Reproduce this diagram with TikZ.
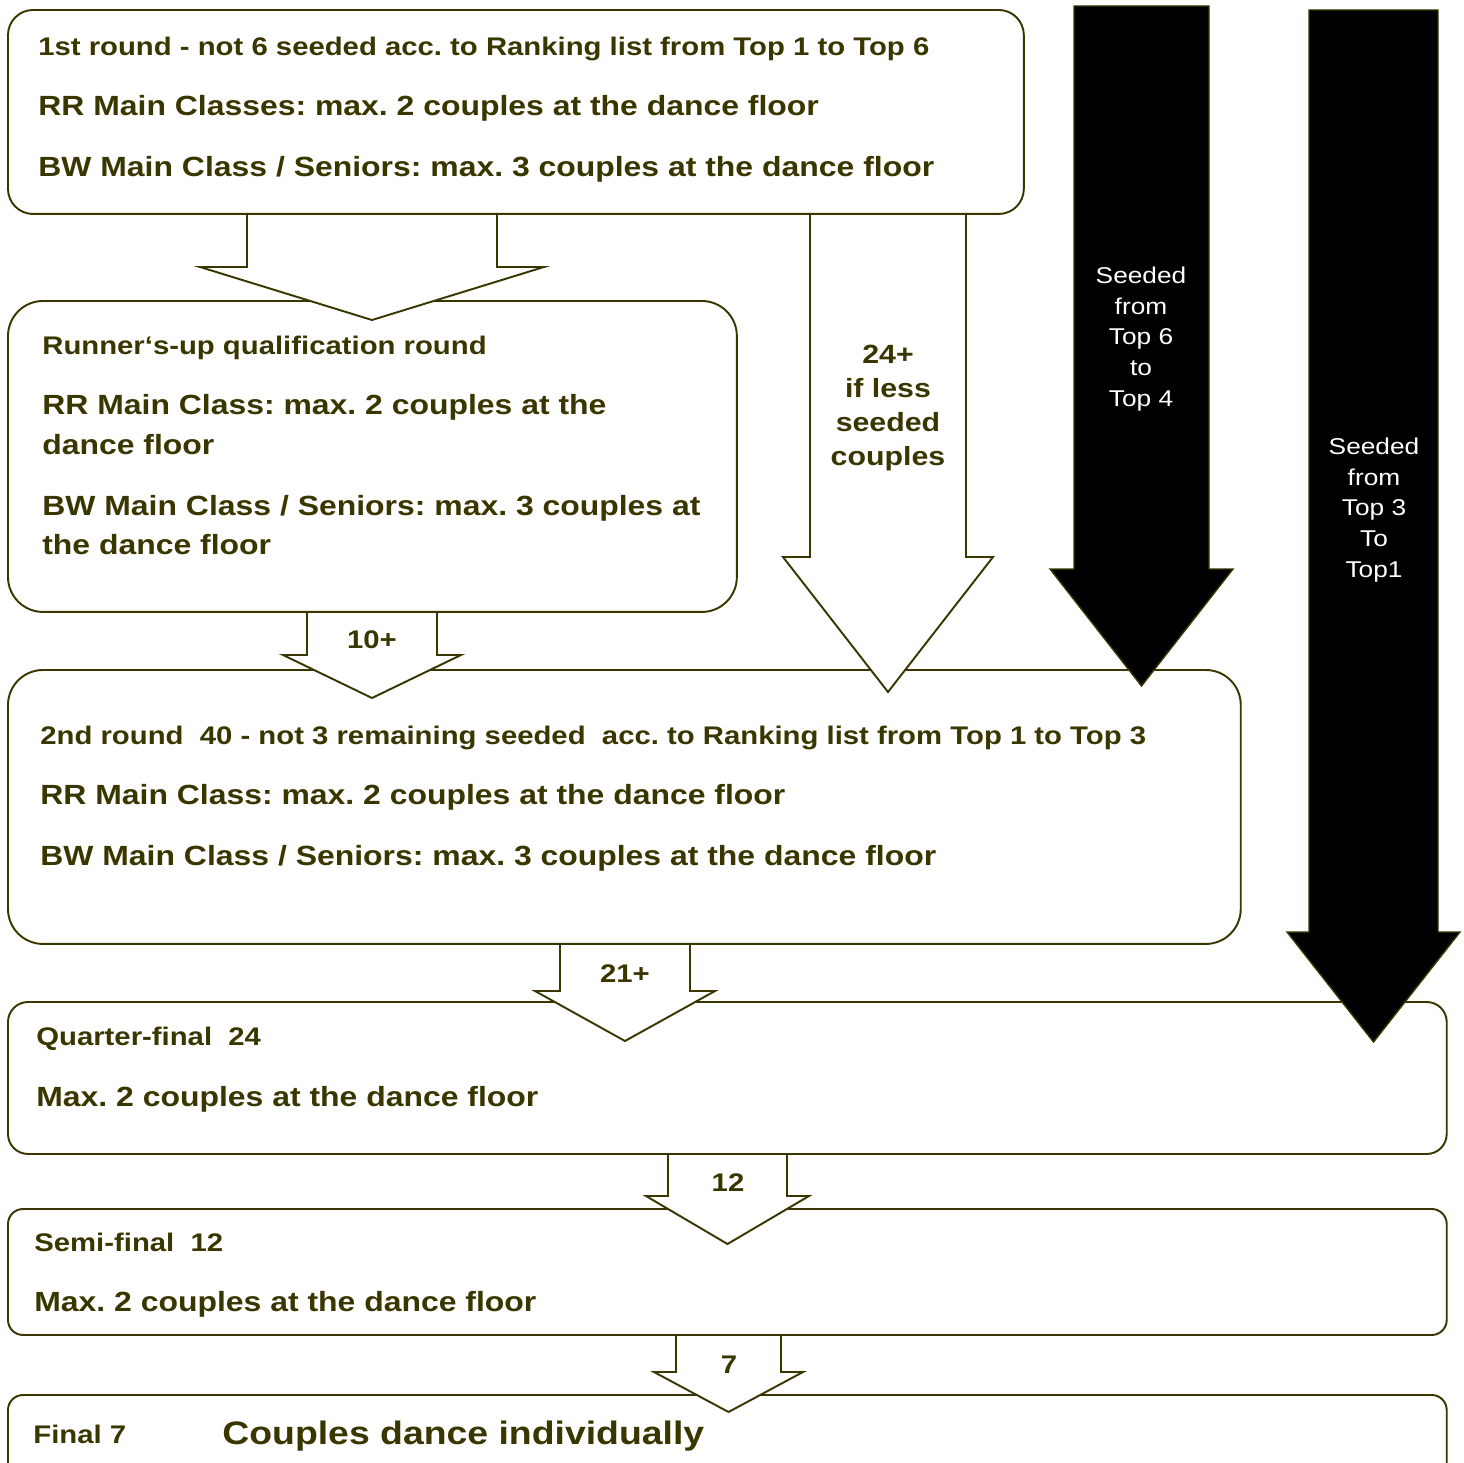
\documentclass[tikz,border=0pt]{standalone}
\usepackage{fontspec}
\setmainfont{Liberation Sans}[FakeStretch=1.15]
\frenchspacing

\definecolor{drab}{RGB}{58,54,0}

\tikzset{
  stage/.style={draw=drab, line width=1.1pt, inner sep=0pt, outer sep=0pt, anchor=north west},
  hint/.style={text=drab, font=\bfseries\fontsize{14.5}{17}\selectfont, anchor=base west, inner sep=0pt},
  rule/.style={text=drab, font=\bfseries\fontsize{15.8}{19}\selectfont, anchor=base west, inner sep=0pt},
  count/.style={text=drab, font=\bfseries\fontsize{14.5}{17}\selectfont, anchor=base, inner sep=0pt},
  hollow/.style={draw=drab, fill=white, line width=1.1pt},
  seedarrow/.style={draw=drab, fill=black, line width=0.8pt},
  seedtext/.style={text=white, font=\fontsize{13}{17.4}\selectfont, align=center, inner sep=0pt}
}

% block arrow: style, shaft left, shaft right, top, neck, head overhang, tip
\newcommand{\blockarr}[7]{%
  \draw[#1] (#2,#4) -- (#2,#5) -- (#2-#6,#5) -- ({(#2+#3)/2},#7)
    -- (#3+#6,#5) -- (#3,#5) -- (#3,#4) -- cycle;}

\begin{document}
\begin{tikzpicture}[x=0.02cm, y=-0.02cm]
\useasboundingbox (0,0) rectangle (1464,1463);
\clip (0,0) rectangle (1464,1463);

% rounds
\node[stage, rounded corners=0.5cm, minimum width=20.32cm, minimum height=4.08cm] (round1) at (8,10) {};
\node[stage, rounded corners=0.7cm, minimum width=14.58cm, minimum height=6.22cm] (runnerup) at (8,301) {};
\node[stage, rounded corners=0.7cm, minimum width=24.66cm, minimum height=5.48cm] (round2) at (8,670) {};
\node[stage, rounded corners=0.4cm, minimum width=28.78cm, minimum height=3.04cm] (quarter) at (8,1002) {};
\node[stage, rounded corners=0.3cm, minimum width=28.78cm, minimum height=2.52cm] (semi) at (8,1209) {};
\node[stage, rounded corners=0.3cm, minimum width=28.78cm, minimum height=2.5cm] (final) at (8,1395) {};

% arrows
\blockarr{hollow}{247}{497}{214}{267}{47}{320}
\blockarr{hollow}{810}{966}{214}{557}{27}{692}
\blockarr{hollow}{307}{437}{612}{655}{24}{698}
\blockarr{hollow}{560}{690}{944}{991}{25}{1041}
\blockarr{hollow}{668}{787}{1154}{1196}{22}{1244}
\blockarr{hollow}{676}{781}{1335}{1372}{22}{1412}
\blockarr{seedarrow}{1074}{1209}{6}{569}{24}{686}
\blockarr{seedarrow}{1309}{1438}{10}{932}{22}{1042}

% texts
\node[hint] (r1a) at (38,55.5) {1st round - not 6 seeded acc. to Ranking list from Top 1 to Top 6};
\node[rule] (r1b) at (38,115.5) {RR Main Classes: max. 2 couples at the dance floor};
\node[rule] (r1c) at (38,176.5) {BW Main Class / Seniors: max. 3 couples at the dance floor};

\node[hint] (rua) at (42,354.5) {Runner‘s-up qualification round};
\node[rule] (rub) at (42,414.5) {RR Main Class: max. 2 couples at the};
\node[rule] (ruc) at (42,454.5) {dance floor};
\node[rule] (rud) at (42,515.5) {BW Main Class / Seniors: max. 3 couples at};
\node[rule] (rue) at (42,554.5) {the dance floor};

\node[hint] (r2a) at (40,744.5) {2nd round\ \ 40 - not 3 remaining seeded\ \ acc. to Ranking list from Top 1 to Top 3};
\node[rule] (r2b) at (40,804.5) {RR Main Class: max. 2 couples at the dance floor};
\node[rule] (r2c) at (40,865.5) {BW Main Class / Seniors: max. 3 couples at the dance floor};

\node[hint] (qfa) at (36,1045.5) {Quarter-final\ \ 24};
\node[rule] (qfb) at (36,1106.5) {Max. 2 couples at the dance floor};
\node[hint] (sfa) at (34,1251.5) {Semi-final\ \ 12};
\node[rule] (sfb) at (34,1311.5) {Max. 2 couples at the dance floor};
\node[hint] (fa) at (33,1443.5) {Final 7};
\node[rule, font=\bfseries\fontsize{18.5}{22}\selectfont] (fb) at (222,1444) {Couples dance individually};

\node[count] (n10) at (372,648.5) {10+};
\node[count] (n21) at (625,982.5) {21+};
\node[count] (n12) at (728,1191.5) {12};
\node[count] (n7) at (729,1373.5) {7};
\node[count, font=\bfseries\fontsize{15}{19.3}\selectfont, align=center, anchor=center] (n24) at (888,408) {24+\\if less\\seeded\\couples};

\node[seedtext] (s6) at (1141,339) {Seeded\\from\\Top 6\\to\\Top 4};
\node[seedtext] (s3) at (1374,510) {Seeded\\from\\Top 3\\To\\Top1};
\end{tikzpicture}
\end{document}
